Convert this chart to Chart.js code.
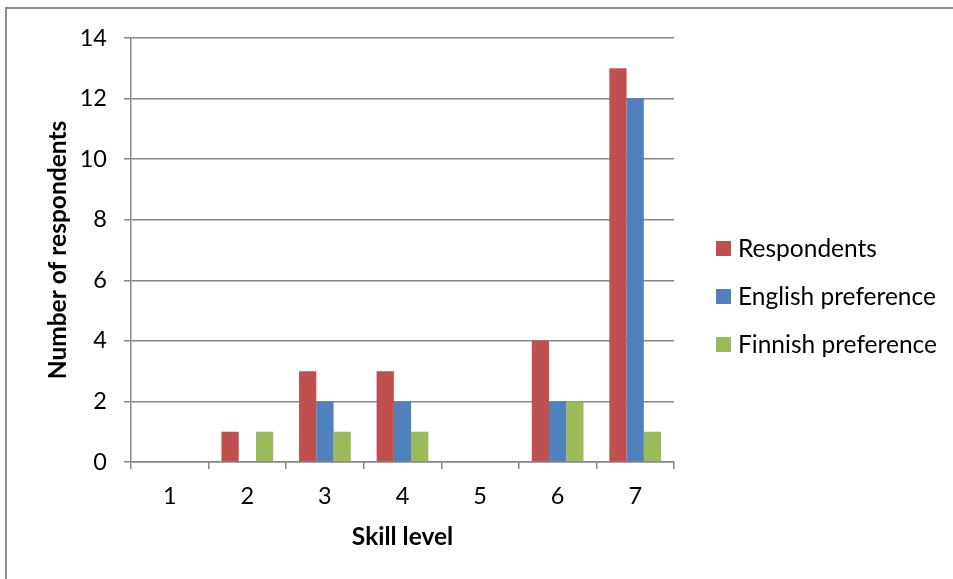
<!DOCTYPE html>
<html>
<head>
<meta charset="utf-8">
<script src="https://cdn.jsdelivr.net/npm/chart.js@4/dist/chart.umd.min.js"></script>
<style>
  html, body { margin: 0; padding: 0; background: #fff; }
  #wrap { width: 953px; height: 579px; position: relative; }
</style>
</head>
<body>
<div id="wrap"><canvas id="c" width="953" height="579"></canvas></div>
<script>
const skillLevels = ['1', '2', '3', '4', '5', '6', '7'];
const respondents = [0, 1, 3, 3, 0, 4, 13];
const englishPreference = [0, 0, 2, 2, 0, 2, 12];
const finnishPreference = [0, 1, 1, 1, 0, 2, 1];
const seriesNames = ['Respondents', 'English preference', 'Finnish preference'];
const seriesColors = ['#C0504D', '#4F81BD', '#9BBB59'];

const FONT = 'Lato, "Liberation Sans", sans-serif';
const AXIS_GRAY = '#868686';

// Frame around the chart, plus a white backdrop
const framePlugin = {
  id: 'frame',
  beforeDraw(chart) {
    const ctx = chart.ctx;
    ctx.save();
    ctx.fillStyle = '#fff';
    ctx.fillRect(0, 0, chart.width, chart.height);
    ctx.strokeStyle = '#8e8e8e';
    ctx.lineWidth = 2;
    ctx.beginPath();
    ctx.moveTo(6, chart.height);
    ctx.lineTo(6, 8);
    ctx.lineTo(chart.width, 8);
    ctx.stroke();
    ctx.restore();
  }
};

// Legend on the right: square swatch plus series name
const sideLegend = {
  id: 'sideLegend',
  afterDraw(chart) {
    const ctx = chart.ctx;
    ctx.save();
    ctx.font = '24.5px ' + FONT;
    ctx.textBaseline = 'middle';
    ctx.textAlign = 'left';
    chart.data.datasets.forEach((ds, i) => {
      const cy = 248.5 + i * 48;
      ctx.fillStyle = ds.backgroundColor;
      ctx.fillRect(716, cy - 7.5, 15, 15);
      ctx.fillStyle = '#000';
      ctx.fillText(ds.label, 738, cy + 1);
    });
    ctx.restore();
  }
};

new Chart(document.getElementById('c'), {
  type: 'bar',
  data: {
    labels: skillLevels,
    datasets: [
      { label: seriesNames[0], data: respondents, backgroundColor: seriesColors[0] },
      { label: seriesNames[1], data: englishPreference, backgroundColor: seriesColors[1] },
      { label: seriesNames[2], data: finnishPreference, backgroundColor: seriesColors[2] }
    ]
  },
  options: {
    responsive: false,
    animation: false,
    devicePixelRatio: 1,
    layout: { padding: { left: 0, top: 38, right: 279, bottom: 0 } },
    datasets: { bar: { categoryPercentage: 0.667, barPercentage: 1.0 } },
    plugins: {
      legend: { display: false },
      tooltip: { enabled: false }
    },
    scales: {
      x: {
        grid: {
          offset: true,
          drawOnChartArea: false,
          drawTicks: true,
          tickLength: 7,
          color: AXIS_GRAY,
          lineWidth: 1.5
        },
        border: { display: true, color: AXIS_GRAY, width: 1.5 },
        ticks: { color: '#000', font: { family: FONT, size: 23.5 }, padding: 13 },
        title: {
          display: true,
          text: 'Skill level',
          color: '#000',
          font: { family: FONT, size: 24.5, weight: 'bold' },
          padding: { top: 0, bottom: 27 }
        },
        afterFit(scale) { scale.height = 117; }
      },
      y: {
        min: 0,
        max: 14,
        ticks: { stepSize: 2, color: '#000', font: { family: FONT, size: 23.5 }, padding: 17 },
        grid: { color: AXIS_GRAY, lineWidth: 1.5, tickLength: 7 },
        border: { display: true, color: AXIS_GRAY, width: 1.5 },
        title: {
          display: true,
          text: 'Number of respondents',
          color: '#000',
          font: { family: FONT, size: 24.5, weight: 'bold' },
          padding: { top: 43, bottom: 0 }
        },
        afterFit(scale) { scale.width = 131; }
      }
    }
  },
  plugins: [framePlugin, sideLegend]
});
</script>
</body>
</html>
